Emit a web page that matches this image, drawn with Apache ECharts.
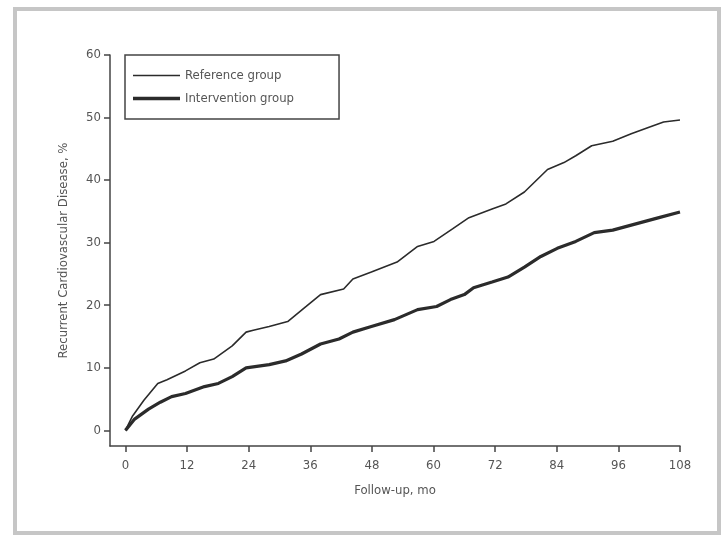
<!DOCTYPE html>
<html>
<head>
<meta charset="utf-8">
<script src="https://cdn.jsdelivr.net/npm/echarts@6/dist/echarts.min.js"></script>
<style>
  html, body { margin: 0; padding: 0; background: #fff; }
  #chart { width: 727px; height: 537px; }
</style>
</head>
<body>
<div id="chart"></div>
<script>
    "use strict";

    // month, cumulative %
    var referenceData = [
        [0, 0], [1.4, 2.3], [3.6, 4.8], [6.3, 7.5], [8.1, 8.1], [11.7, 9.5],
        [14.5, 10.8], [17.2, 11.4], [20.8, 13.5], [23.5, 15.7], [24.9, 16],
        [28, 16.6], [31.6, 17.4], [35.2, 19.8], [38, 21.7], [42.5, 22.6],
        [44.3, 24.2], [47.9, 25.3], [52.9, 26.9], [56.9, 29.4], [60.1, 30.2],
        [63.7, 32.2], [66.9, 34], [71.4, 35.4], [74.1, 36.2], [77.7, 38.1],
        [82.2, 41.7], [85.4, 42.8], [87.7, 43.9], [90.8, 45.5], [94.9, 46.2],
        [98.5, 47.4], [102.1, 48.5], [104.8, 49.3], [108, 49.6]
    ];
    var interventionData = [
        [0, 0], [1.8, 1.8], [4.5, 3.4], [6.8, 4.5], [9, 5.4], [11.7, 5.9],
        [15.4, 7], [18.1, 7.5], [20.8, 8.6], [23.5, 10], [28, 10.5],
        [31.2, 11.1], [34.3, 12.2], [38, 13.8], [41.6, 14.6], [44.3, 15.7],
        [47.9, 16.6], [52.4, 17.7], [56.9, 19.3], [60.6, 19.8], [63.3, 20.9],
        [66, 21.7], [67.8, 22.8], [71.4, 23.7], [74.5, 24.5], [77.7, 26.1],
        [80.9, 27.8], [84.1, 29.1], [87.7, 30.2], [91.3, 31.6], [94.9, 32],
        [99.4, 33], [103.9, 34], [108, 34.9]
    ];
    var xTicks = [0, 12, 24, 36, 48, 60, 72, 84, 96, 108];
    var yTicks = [0, 10, 20, 30, 40, 50, 60];

    var fontFam = "'DejaVu Sans Condensed', 'Liberation Sans Narrow', 'Liberation Sans', sans-serif";
    var ink = '#2b2b2b';

    // legend swatches: a bar inside a 47x12 box (tiny corner marks keep the box size)
    var thinIcon = 'path://M0,0L0.01,0L0,0.01Z M47,12L46.99,12L47,11.99Z M0,5.2L47,5.2L47,6.8L0,6.8Z';
    var thickIcon = 'path://M0,0L0.01,0L0,0.01Z M47,12L46.99,12L47,11.99Z M0,4.3L47,4.3L47,7.7L0,7.7Z';

    var chart = echarts.init(document.getElementById('chart'));

    var option = {
        backgroundColor: '#fff',
        animation: false,
        textStyle: { fontFamily: fontFam },
        graphic: [
            {
                type: 'rect',
                shape: { x: 15, y: 9, width: 704, height: 524 },
                style: { fill: 'none', stroke: '#c6c6c6', lineWidth: 4 },
                silent: true
            }
        ],
        legend: {
            orient: 'vertical',
            left: 125,
            top: 55,
            borderColor: '#444',
            borderWidth: 1.5,
            borderRadius: 0,
            padding: [14, 45, 14, 8],
            itemGap: 10,
            itemWidth: 47,
            itemHeight: 12,
            textStyle: { fontSize: 13, color: '#555', fontFamily: fontFam },
            data: [
                { name: 'Reference group', icon: thinIcon, itemStyle: { color: ink, borderWidth: 0 } },
                { name: 'Intervention group', icon: thickIcon, itemStyle: { color: ink, borderWidth: 0 } }
            ]
        },
        grid: { left: 110, right: 47, top: 55, bottom: 91 },
        xAxis: {
            type: 'value',
            min: -3,
            max: 108,
            name: 'Follow-up, mo',
            nameLocation: 'middle',
            nameGap: 38,
            nameTextStyle: { fontSize: 13, color: '#555' },
            axisLine: { show: true, onZero: false, lineStyle: { color: '#444', width: 1.5 } },
            axisTick: { show: true, length: 6, customValues: xTicks, lineStyle: { color: '#444', width: 1.5 } },
            axisLabel: { customValues: xTicks, fontSize: 13, color: '#555', margin: 13 },
            splitLine: { show: false }
        },
        yAxis: {
            type: 'value',
            min: -2.5,
            max: 60,
            name: 'Recurrent Cardiovascular Disease, %',
            nameLocation: 'middle',
            nameGap: 40,
            nameTextStyle: { fontSize: 13, color: '#555' },
            axisLine: { show: true, onZero: false, lineStyle: { color: '#444', width: 1.5 } },
            axisTick: { show: true, length: 6, customValues: yTicks, lineStyle: { color: '#444', width: 1.5 } },
            axisLabel: { customValues: yTicks, fontSize: 13, color: '#555', margin: 9 },
            splitLine: { show: false }
        },
        series: [
            {
                name: 'Reference group',
                type: 'line',
                data: referenceData,
                symbol: 'none',
                color: ink,
                lineStyle: { color: ink, width: 1.6 }
            },
            {
                name: 'Intervention group',
                type: 'line',
                data: interventionData,
                symbol: 'none',
                color: ink,
                lineStyle: { color: ink, width: 3.2 }
            }
        ]
    };

    chart.setOption(option);
</script>
</body>
</html>
